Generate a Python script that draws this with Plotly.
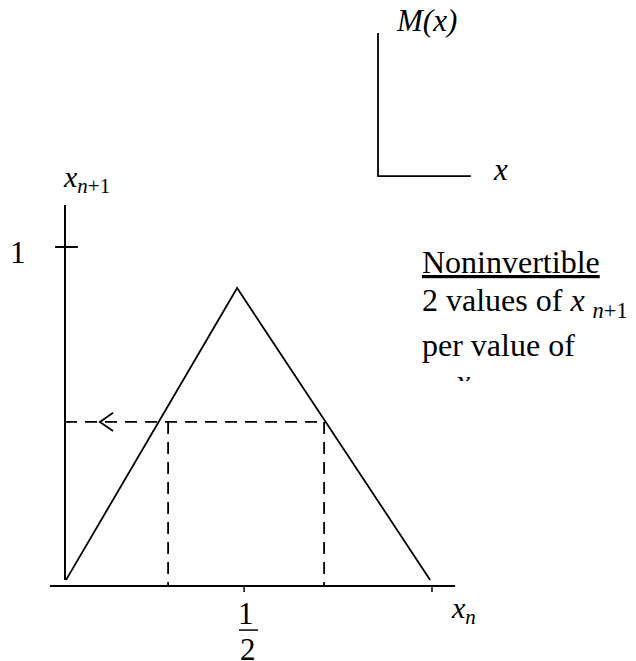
import plotly.graph_objects as go

# ---- diagram data (x_n, x_{n+1} units) ----
tent_xn = [0.003, 0.469, 0.995]          # tent map vertices
tent_xn1 = [0.018, 0.879, 0.018]
level_value = 0.484                       # chosen x_{n+1}
preimage_xn = [0.281, 0.706]              # two x_n giving the same x_{n+1}
yaxis_span = [0.018, 1.124]               # drawn vertical axis
xaxis_span = [-0.041, 1.063]              # drawn horizontal axis
ytick_value = 1.0
ytick_span = [-0.027, 0.035]
xtick_values = [0.488, 1.0]
xtick_len = 0.0177
arrow_tip = 0.095
arrow_back = 0.131
arrow_half = 0.027
inset_origin = [0.853, 1.209]             # small M(x) axes
inset_top = 1.631
inset_right = 1.106

text_lines = [
    "<u>Noninvertible</u>",
    "2 values of <i>x</i> <sub><i>n</i>+1</sub>",
    "per value of",
    "<i>x</i><sub><i>n</i></sub>",
]

BLACK = "#000000"
FONT = "'Liberation Serif', 'Times New Roman', 'DejaVu Serif', serif"

fig = go.Figure()

def seg(xs, ys, width=2, dash=None):
    fig.add_trace(go.Scatter(x=xs, y=ys, mode="lines", hoverinfo="skip",
                             line=dict(color=BLACK, width=width, dash=dash),
                             showlegend=False))

# axes
seg([0, 0], [yaxis_span[1], yaxis_span[0]])
seg([xaxis_span[0], xaxis_span[1]], [0, 0])
seg(ytick_span, [ytick_value, ytick_value])
for t in xtick_values:
    seg([t, t], [0, -xtick_len], width=1.5)

# tent map
seg(tent_xn, tent_xn1, width=1.8)

# dashed construction
seg([0, preimage_xn[1]], [level_value, level_value], width=1.8, dash="12px,8px")
for p in preimage_xn:
    seg([p, p], [level_value, 0], width=1.8, dash="12px,8px")

# arrowhead
seg([arrow_back, arrow_tip, arrow_back],
    [level_value + arrow_half, level_value, level_value - arrow_half], width=1.8)

# inset axes
seg([inset_origin[0], inset_origin[0], inset_right],
    [inset_top, inset_origin[1], inset_origin[1]], width=1.8)

# clipped 4th text line (as trace text so a shape can mask it)
fig.add_trace(go.Scatter(x=[1.100], y=[0.595], mode="text", text=[text_lines[3]],
                         textposition="middle center", hoverinfo="skip",
                         textfont=dict(family=FONT, size=32, color=BLACK),
                         showlegend=False))
fig.add_shape(type="rect", xref="x", yref="y", x0=0.95, x1=1.6, y0=0.40, y1=0.605,
              fillcolor="white", line=dict(width=0), layer="above")

def note(x, y, text, size=32, xanchor="left"):
    fig.add_annotation(x=x, y=y, xref="x", yref="y", text=text, showarrow=False,
                       xanchor=xanchor, yanchor="middle",
                       font=dict(family=FONT, size=size, color=BLACK))

note(0.967, 0.956, text_lines[0])
note(0.967, 0.835, text_lines[1])
note(0.967, 0.711, text_lines[2])

note(0.984, 1.667, "<i>M(x)</i>", size=31, xanchor="center")
note(1.188, 1.229, "<i>x</i>", size=31, xanchor="center")
note(-0.010, 1.200, "<i>x</i><sub><i>n</i>+1</sub>", size=30)
note(-0.128, 0.985, "1", size=31, xanchor="center")
note(0.493, -0.080, "1", size=31, xanchor="center")
note(0.499, -0.186, "2", size=31, xanchor="center")
seg([0.474, 0.526], [-0.130, -0.130], width=1.5)
note(1.045, -0.072, "<i>x</i><sub><i>n</i></sub>", size=30)

# page body has an 8px margin: shift the ranges so marks land where the reference has them
fig.update_layout(
    width=636, height=661,
    margin=dict(l=0, r=0, t=0, b=0),
    paper_bgcolor="white", plot_bgcolor="white",
    xaxis=dict(range=[-0.1553, 1.5777], visible=False, fixedrange=True),
    yaxis=dict(range=[-0.2448, 1.7050], visible=False, fixedrange=True),
)

fig.write_html("out.html")
